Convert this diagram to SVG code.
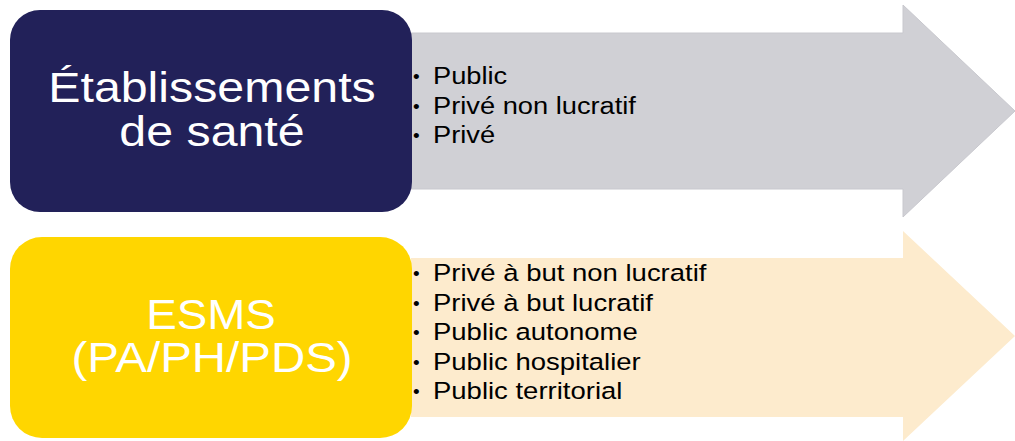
<svg xmlns="http://www.w3.org/2000/svg" width="1015" height="441" viewBox="0 0 1015 441">
<style>
.title{font-family:"Liberation Sans",Arial,sans-serif;font-size:42px;fill:#ffffff;text-anchor:middle}
.item{font-family:"Liberation Sans",Arial,sans-serif;font-size:23.5px;fill:#000000}
.bul{font-family:"Liberation Sans",Arial,sans-serif;font-size:19px;fill:#000000}
</style>
<rect width="1015" height="441" fill="#ffffff"/>
<g id="arrow-etablissements">
<path d="M411,33 L903,33 L903,5 L1015,111 L903,217 L903,189 L411,189 Z" fill="#D0D0D5" stroke="#C8C8CE" stroke-width="1"/>
<g class="item">
<text class="bul" x="413" y="83">•</text>
<text transform="translate(433,84) scale(1.16,1)">Public</text>
<text class="bul" x="413" y="112.5">•</text>
<text transform="translate(433,113.5) scale(1.16,1)">Privé non lucratif</text>
<text class="bul" x="413" y="142">•</text>
<text transform="translate(433,143) scale(1.16,1)">Privé</text>
</g>
</g>
<g id="arrow-esms">
<path d="M411,258 L903,258 L903,231 L1015,336 L903,441 L903,417 L411,417 Z" fill="#FDEBCD"/>
<g class="item">
<text class="bul" x="413" y="280">•</text>
<text transform="translate(433,281) scale(1.17,1)">Privé à but non lucratif</text>
<text class="bul" x="413" y="309.5">•</text>
<text transform="translate(433,310.5) scale(1.17,1)">Privé à but lucratif</text>
<text class="bul" x="413" y="339">•</text>
<text transform="translate(433,340) scale(1.17,1)">Public autonome</text>
<text class="bul" x="413" y="368.5">•</text>
<text transform="translate(433,369.5) scale(1.17,1)">Public hospitalier</text>
<text class="bul" x="413" y="398">•</text>
<text transform="translate(433,399) scale(1.17,1)">Public territorial</text>
</g>
</g>
<g id="node-etablissements">
<rect x="10" y="10" width="402" height="202" rx="30" ry="30" fill="#222159"/>
<text class="title" transform="translate(212,102) scale(1.15,1)">Établissements</text>
<text class="title" transform="translate(212,146) scale(1.15,1)">de santé</text>
</g>
<g id="node-esms">
<rect x="10" y="237" width="402" height="201" rx="32" ry="32" fill="#FFD600"/>
<text class="title" transform="translate(211,329) scale(1.09,1)">ESMS</text>
<text class="title" transform="translate(212,372) scale(1.13,1)">(PA/PH/PDS)</text>
</g>
<g id="connectors"/>
</svg>
